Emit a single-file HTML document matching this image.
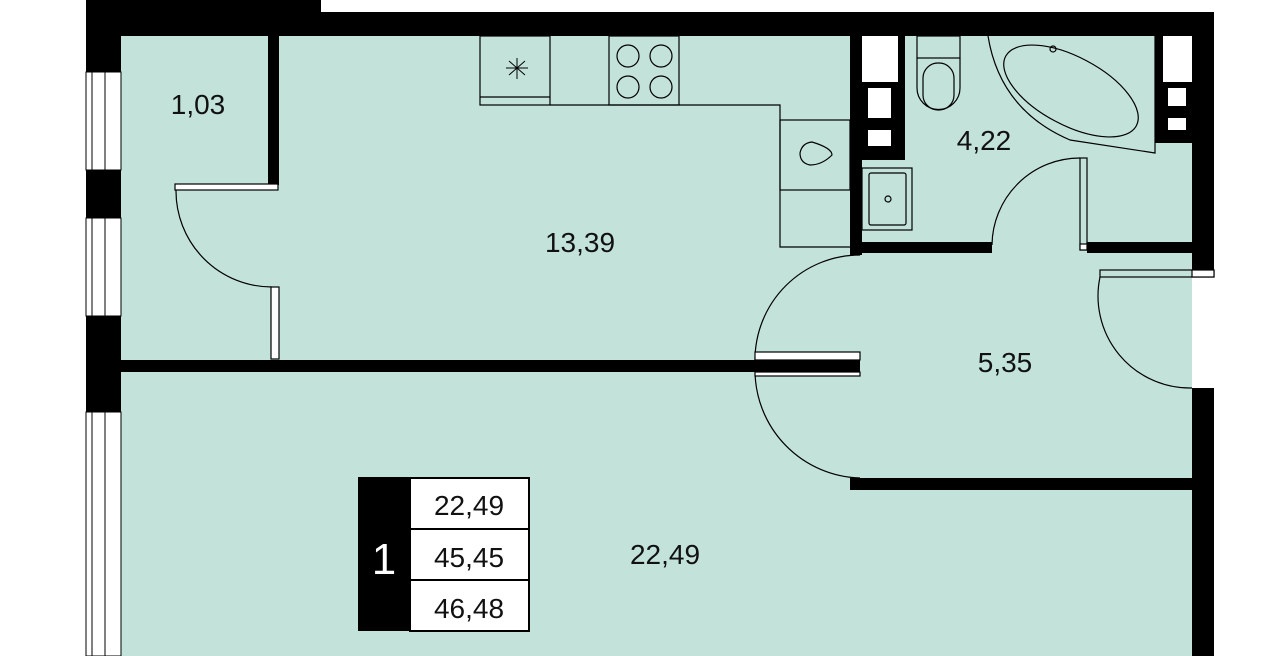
<!DOCTYPE html>
<html><head><meta charset="utf-8"><style>
html,body{margin:0;padding:0;background:#fff;width:1280px;height:656px;overflow:hidden}
svg{display:block}
text{font-family:"Liberation Sans",sans-serif;fill:#111}
</style></head><body>
<svg width="1280" height="656" viewBox="0 0 1280 656" xmlns="http://www.w3.org/2000/svg">
<rect x="121" y="36" width="1071" height="620" fill="#c3e3da"/>
<g fill="#000">
<rect x="86" y="0" width="235" height="36"/>
<rect x="86" y="12" width="1128" height="24"/>
<rect x="1192" y="12" width="22" height="258"/>
<rect x="1192" y="388" width="22" height="268"/>
<rect x="86" y="36" width="35" height="36"/>
<rect x="86" y="170" width="35" height="48"/>
<rect x="86" y="316" width="35" height="96"/>
<rect x="268" y="36" width="11" height="149"/>
<rect x="121" y="360" width="739" height="12"/>
<rect x="850" y="36" width="12" height="219"/>
<rect x="862" y="36" width="43" height="124"/>
<rect x="862" y="242" width="130" height="11"/>
<rect x="1087" y="242" width="105" height="11"/>
<rect x="1155" y="36" width="37" height="107"/>
<rect x="850" y="478" width="342" height="12"/>
</g>
<g fill="#fff" stroke="#000" stroke-width="1">
<rect x="86" y="72" width="35" height="98"/><line x1="92" y1="72" x2="92" y2="170"/><line x1="105" y1="72" x2="105" y2="170"/>
<rect x="86" y="218" width="35" height="98"/><line x1="92" y1="218" x2="92" y2="316"/><line x1="105" y1="218" x2="105" y2="316"/>
<rect x="86" y="412" width="35" height="244"/><line x1="92" y1="412" x2="92" y2="656"/><line x1="105" y1="412" x2="105" y2="656"/>
</g>
<g fill="#fff" stroke="none">
<rect x="862" y="36" width="36" height="46"/><rect x="868" y="88" width="23" height="30"/><rect x="868" y="130" width="23" height="16"/>
<rect x="1163" y="36" width="29" height="46"/><rect x="1168" y="88" width="18" height="18"/><rect x="1168" y="118" width="18" height="12"/>
</g>
<g fill="none" stroke="#000" stroke-width="1.2">
<rect x="175" y="184" width="103" height="6" fill="#fff"/>
<path d="M176 190 A96 96 0 0 0 272 287"/>
<rect x="271" y="287" width="8" height="72" fill="#fff"/>
<rect x="480" y="36" width="70" height="69"/><line x1="480" y1="97" x2="550" y2="97"/>
<rect x="609" y="36" width="70" height="69"/>
<circle cx="628" cy="56" r="11"/><circle cx="661" cy="56" r="11"/><circle cx="628" cy="87" r="11"/><circle cx="661" cy="87" r="11"/>
<polyline points="550,105 780,105 780,247 850,247"/>
<rect x="780" y="120" width="70" height="70"/>
<path d="M812 142 Q832 148 832 155 Q822 165 810 165 Q800 163 800 153 Q802 143 812 142Z"/>
<g stroke-width="1"><line x1="506" y1="68" x2="528" y2="68"/><line x1="517" y1="58" x2="517" y2="79"/><line x1="509" y1="61" x2="525" y2="75"/><line x1="525" y1="61" x2="509" y2="75"/></g>
<rect x="917" y="36" width="43" height="22"/>
<path d="M917 58 L917 88 A21 21 0 0 0 960 88 L960 58"/>
<rect x="923" y="63" width="31" height="47" rx="15"/>
<path d="M988 36 Q1000 110 1070 140 L1155 153 L1155 36"/>
<ellipse cx="1071" cy="91" rx="74" ry="34" transform="rotate(28 1071 91)"/>
<circle cx="1053" cy="49" r="3"/>
<rect x="862" y="168" width="50" height="62"/>
<rect x="869" y="173" width="37" height="52" rx="2"/>
<circle cx="888" cy="199" r="3"/>
<path d="M992 245 A88 88 0 0 1 1080 158"/>
<rect x="1080" y="158" width="7" height="92" fill="#c3e3da"/>
<rect x="1080" y="244" width="7" height="6" fill="#fff"/>
<path d="M860 255 A105 105 0 0 0 755 360"/>
<path d="M755 370 A108 108 0 0 0 860 478"/>
<rect x="755" y="352" width="105" height="8" fill="#fff"/>
<rect x="755" y="372" width="105" height="4" fill="#fff"/>
<rect x="1100" y="270" width="114" height="7" fill="#c3e3da"/>
<rect x="1192" y="270" width="22" height="7" fill="#fff"/>
<path d="M1100 277 A92 92 0 0 0 1192 388"/>
</g>
<rect x="358" y="477" width="52" height="154" fill="#000"/>
<g fill="#fff" stroke="#000" stroke-width="2">
<rect x="410" y="478" width="119" height="51"/><rect x="410" y="529" width="119" height="51"/><rect x="410" y="580" width="119" height="51"/>
</g>
<text x="384" y="574" font-size="44" text-anchor="middle" style="fill:#fff">1</text>
<g font-size="28" text-anchor="middle">
<text x="469" y="515">22,49</text><text x="469" y="567">45,45</text><text x="469" y="618">46,48</text>
<text x="198" y="114">1,03</text>
<text x="580" y="252">13,39</text>
<text x="984" y="150">4,22</text>
<text x="1005" y="372">5,35</text>
<text x="665" y="564">22,49</text>
</g>
</svg>
</body></html>
